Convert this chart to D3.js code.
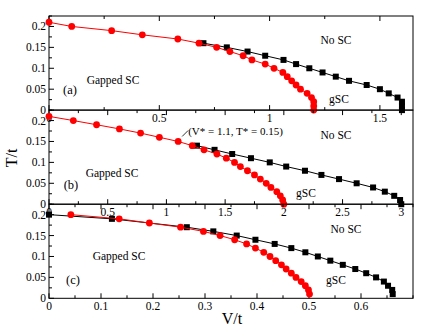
<!DOCTYPE html>
<html>
<head>
<meta charset="utf-8">
<script src="https://cdn.jsdelivr.net/npm/d3@7"></script>
<style>
  body { margin: 0; background: #fff; }
</style>
</head>
<body>
<svg id="chart" width="430" height="332" font-family="'Liberation Serif', 'DejaVu Serif', serif"></svg>
<script>
// ---- data: [V/t, T/t]
var redA = [[0,0.21],[0.103,0.2],[0.284,0.19],[0.423,0.18],[0.584,0.17],[0.68,0.16],[0.76,0.15],[0.82,0.14],[0.88,0.13],
  [0.92,0.12],[0.98,0.11],[1.02,0.1],[1.06,0.09],[1.08,0.08],[1.10,0.07],[1.12,0.06],[1.14,0.05],[1.17,0.04],
  [1.19,0.03],[1.2,0.02],[1.2,0.01],[1.2,0]];
var blackA = [[0.70,0.16],[0.806,0.15],[0.90,0.14],[0.98,0.13],[1.063,0.12],[1.12,0.11],[1.18,0.1],[1.24,0.09],
  [1.30,0.08],[1.36,0.07],[1.44,0.06],[1.50,0.05],[1.54,0.04],[1.58,0.03],[1.6,0.02],[1.6,0.01],[1.6,0]];

var redB = [[0,0.21],[0.207,0.2],[0.405,0.19],[0.60,0.18],[0.78,0.17],[0.94,0.16],[1.10,0.15],[1.22,0.14],[1.32,0.13],
  [1.43,0.12],[1.51,0.11],[1.58,0.1],[1.63,0.09],[1.69,0.08],[1.75,0.07],[1.80,0.06],[1.85,0.05],[1.89,0.04],
  [1.94,0.03],[1.97,0.02],[1.99,0.01],[2.0,0]];
var blackB = [[1.26,0.14],[1.41,0.13],[1.56,0.12],[1.72,0.11],[1.88,0.1],[2.02,0.09],[2.18,0.08],[2.32,0.07],
  [2.47,0.06],[2.62,0.05],[2.76,0.04],[2.86,0.03],[2.94,0.02],[2.99,0.01],[3.0,0]];

var redC = [[0.042,0.2],[0.135,0.19],[0.193,0.18],[0.253,0.17],[0.297,0.16],[0.329,0.15],[0.357,0.14],[0.38,0.13],
  [0.397,0.12],[0.413,0.11],[0.425,0.1],[0.436,0.09],[0.447,0.08],[0.456,0.07],[0.466,0.06],[0.475,0.05],
  [0.485,0.04],[0.493,0.03],[0.499,0.02],[0.501,0.01]];
var blackC = [[0,0.2],[0.121,0.19],[0.265,0.17],[0.316,0.16],[0.361,0.15],[0.397,0.14],[0.434,0.13],[0.466,0.12],
  [0.493,0.11],[0.517,0.1],[0.541,0.09],[0.565,0.08],[0.589,0.07],[0.61,0.06],[0.629,0.05],[0.644,0.04],
  [0.652,0.03],[0.66,0.02],[0.661,0.01]];

var yTicks = [0, 0.05, 0.1, 0.15, 0.2];
var xTicksA = [0, 0.5, 1, 1.5];
var xTicksB = [0, 0.5, 1, 1.5, 2, 2.5, 3];
var xTicksC = [0, 0.1, 0.2, 0.3, 0.4, 0.5, 0.6];
var panelLabels = ["(a)", "(b)", "(c)"];

var svg = d3.select("#chart");
var left = 49, right = 413, top0 = 16, ph = 94.1;

var panels = [
  { red: redA, black: blackA, xmax: 1.65, ticks: xTicksA, minor: 0.25, lab: panelLabels[0],
    noSC: [336, 44], gSC: [339, 103], gapped: [113, 84], tag: [70, 94] },
  { red: redB, black: blackB, xmax: 3.1, ticks: xTicksB, minor: 0.25, lab: panelLabels[1],
    noSC: [336, 139], gSC: [306, 197], gapped: [112, 177], tag: [71, 189] },
  { red: redC, black: blackC, xmax: 0.7, ticks: xTicksC, minor: 0.05, lab: panelLabels[2],
    noSC: [346, 233], gSC: [336, 284], gapped: [119, 260], tag: [73, 284] }
];

panels.forEach(function(p, i) {
  var top = top0 + i * ph, bot = top + ph;
  var x = d3.scaleLinear().domain([0, p.xmax]).range([left, right]);
  var y = d3.scaleLinear().domain([0, 0.225]).range([bot, top]);
  var g = svg.append("g");

  // frame
  g.append("rect").attr("x", left).attr("y", top).attr("width", right - left).attr("height", ph)
    .style("fill", "none").style("stroke", "black").style("stroke-width", 1);

  // x ticks (bottom + top, pointing in)
  var minors = d3.range(0, p.xmax + 1e-9, p.minor);
  minors.forEach(function(v) {
    var major = p.ticks.some(function(t) { return Math.abs(t - v) < 1e-9; });
    var len = major ? 5 : 3;
    g.append("line").attr("x1", x(v)).attr("x2", x(v)).attr("y1", bot).attr("y2", bot - len).style("stroke", "black");
    g.append("line").attr("x1", x(v)).attr("x2", x(v)).attr("y1", top).attr("y2", top + len).style("stroke", "black");
  });
  // y ticks on the left
  d3.range(0, 0.2251, 0.025).forEach(function(v) {
    var major = Math.round(v / 0.025) % 2 == 0;
    g.append("line").attr("x1", left).attr("x2", left + (major ? 5 : 3)).attr("y1", y(v)).attr("y2", y(v)).style("stroke", "black");
  });

  // tick labels
  g.selectAll(".xl").data(p.ticks).enter().append("text")
    .attr("x", function(d) { return x(d); }).attr("y", bot + 11.5)
    .attr("text-anchor", "middle").style("font-size", "11.5px").text(function(d) { return d; });
  g.selectAll(".yl").data(yTicks).enter().append("text")
    .attr("x", left - 3).attr("y", function(d) { return y(d) + 4; })
    .attr("text-anchor", "end").style("font-size", "11.5px").text(function(d) { return d; });

  var line = d3.line().x(function(d) { return x(d[0]); }).y(function(d) { return y(d[1]); });

  // black squares first, red circles on top
  g.append("path").attr("d", line(p.black)).style("fill", "none").style("stroke", "black").style("stroke-width", 1);
  g.selectAll(".sq").data(p.black).enter().append("rect")
    .attr("x", function(d) { return x(d[0]) - 3; }).attr("y", function(d) { return y(d[1]) - 3; })
    .attr("width", 6).attr("height", 6).style("fill", "black");
  g.append("path").attr("d", line(p.red)).style("fill", "none").style("stroke", "red").style("stroke-width", 1);
  g.selectAll(".ci").data(p.red).enter().append("circle")
    .attr("cx", function(d) { return x(d[0]); }).attr("cy", function(d) { return y(d[1]); })
    .attr("r", 3.4).style("fill", "red");

  // region labels
  g.append("text").attr("x", p.noSC[0]).attr("y", p.noSC[1]).attr("text-anchor", "middle").style("font-size", "11.5px").text("No SC");
  g.append("text").attr("x", p.gSC[0]).attr("y", p.gSC[1]).attr("text-anchor", "middle").style("font-size", "11.5px").text("gSC");
  g.append("text").attr("x", p.gapped[0]).attr("y", p.gapped[1]).attr("text-anchor", "middle").style("font-size", "11.5px").text("Gapped SC");
  g.append("text").attr("x", p.tag[0]).attr("y", p.tag[1]).attr("text-anchor", "middle").style("font-size", "12.5px").text(p.lab);

  if (i == 1) {
    // critical point annotation
    g.append("line").attr("x1", x(1.1) + 4).attr("y1", y(0.15) - 5).attr("x2", x(1.1) + 10).attr("y2", y(0.15) - 11)
      .style("stroke", "black").style("stroke-width", 0.8);
    g.append("text").attr("x", x(1.1) + 10).attr("y", y(0.15) - 6).style("font-size", "11px")
      .text("(V* = 1.1, T* = 0.15)");
  }
});

// axis titles
svg.append("text").attr("transform", "translate(17,158) rotate(-90)").attr("text-anchor", "middle")
  .style("font-size", "16px").text("T/t");
svg.append("text").attr("x", 232).attr("y", 324).attr("text-anchor", "middle")
  .style("font-size", "16px").text("V/t");
</script>
</body>
</html>
